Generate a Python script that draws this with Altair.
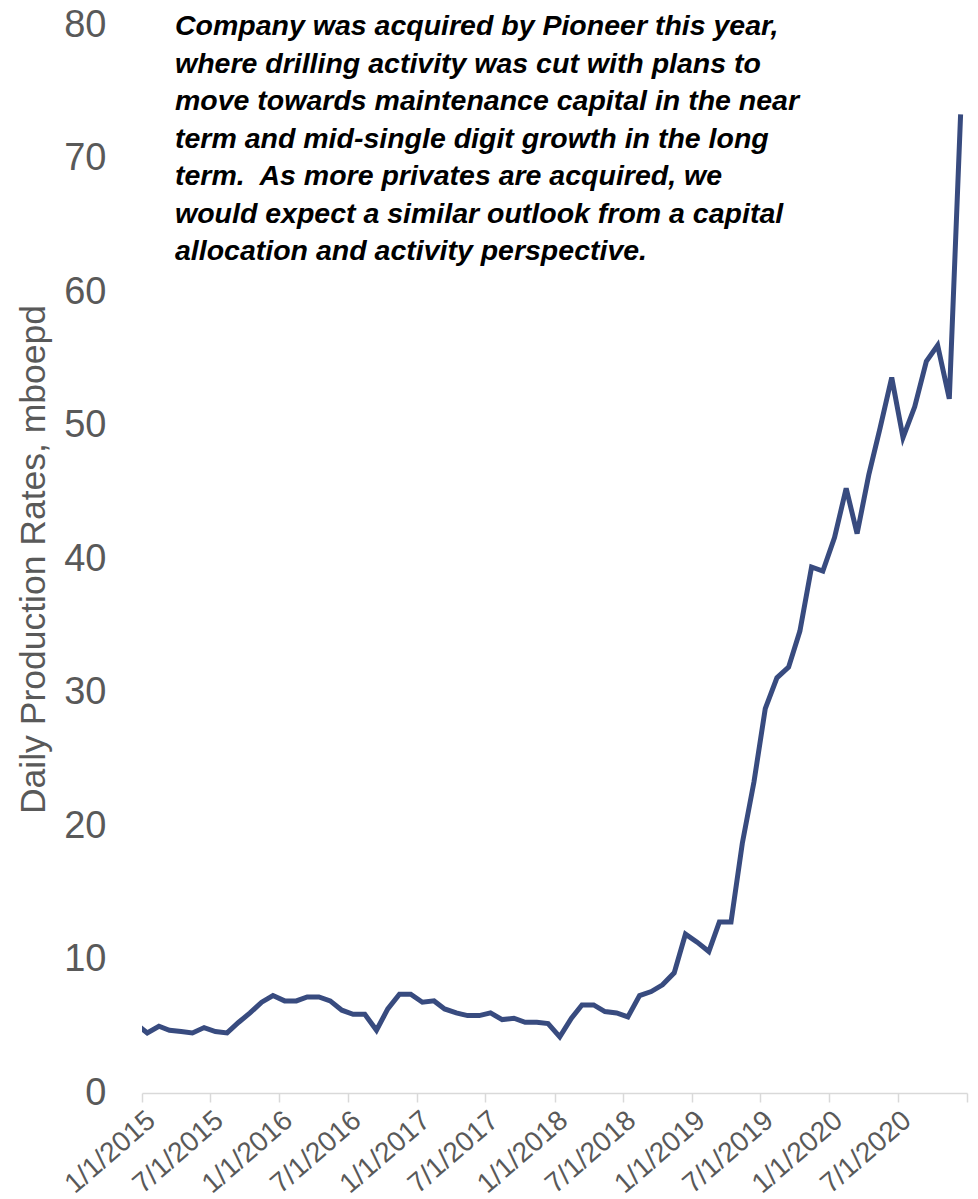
import altair as alt
import pandas as pd

# monthly production (mid-month readings), first value is Dec-2014 (clipped at axis start)
dates = [d.strftime("%Y-%m-%d") for d in pd.date_range("2014-12-01", periods=73, freq="MS") + pd.Timedelta(days=14)]
values = [5.2,
          4.5, 5.0, 4.7, 4.6, 4.5, 4.9, 4.6, 4.5, 5.3, 6.0, 6.8, 7.3,
          6.9, 6.9, 7.2, 7.2, 6.9, 6.2, 5.9, 5.9, 4.7, 6.3, 7.4, 7.4,
          6.8, 6.9, 6.3, 6.0, 5.8, 5.8, 6.0, 5.5, 5.6, 5.3, 5.3, 5.2,
          4.2, 5.6, 6.6, 6.6, 6.1, 6.0, 5.7, 7.3, 7.6, 8.1, 9.0, 11.9,
          11.3, 10.6, 12.8, 12.8, 18.7, 23.3, 28.8, 31.1, 31.9, 34.6, 39.4, 39.1,
          41.6, 45.3, 41.9, 46.3, 49.8, 53.6, 49.1, 51.4, 54.8, 56.0, 52.0, 73.3]

tick_years = [2015, 2015, 2016, 2016, 2017, 2017, 2018, 2018, 2019, 2019, 2020, 2020, 2021]
tick_months = [1, 7, 1, 7, 1, 7, 1, 7, 1, 7, 1, 7, 1]
y_ticks = [0, 10, 20, 30, 40, 50, 60, 70, 80]

note_lines = [
    "Company was acquired by Pioneer this year,",
    "where drilling activity was cut with plans to",
    "move towards maintenance capital in the near",
    "term and mid-single digit growth in the long",
    "term.\u00a0 As more privates are acquired, we",
    "would expect a similar outlook from a capital",
    "allocation and activity perspective.",
]

df = pd.DataFrame({"date": dates, "value": values})
note_df = pd.DataFrame({"t": ["\n".join(note_lines)]})

FONT = "Liberation Sans"
GRAY = "#595959"

tick_vals = [alt.DateTime(year=y, month=m, date=1, utc=True) for y, m in zip(tick_years, tick_months)]

line = alt.Chart(df).mark_line(color="#384B7F", strokeWidth=5, clip=True).encode(
    x=alt.X(
        "date:T",
        scale=alt.Scale(
            type="utc",
            domain=[alt.DateTime(year=2015, month=1, date=1, utc=True),
                    alt.DateTime(year=2021, month=1, date=1, utc=True)],
        ),
        axis=alt.Axis(
            values=tick_vals,
            labelExpr="utcyear(datum.value) >= 2021 ? '' : utcFormat(datum.value, '%-m/%-d/%Y')",
            labelAngle=319,
            labelAlign="right",
            labelBaseline="top",
            labelPadding=4,
            labelFontSize=28,
            labelFont=FONT,
            labelColor=GRAY,
            labelOverlap=False,
            domainColor="#D9D9D9",
            domainWidth=1.5,
            tickColor="#D9D9D9",
            tickWidth=1.5,
            tickSize=9,
            title=None,
            grid=False,
        ),
    ),
    y=alt.Y(
        "value:Q",
        scale=alt.Scale(domain=[0, 80], nice=False),
        axis=alt.Axis(
            values=y_ticks,
            domain=False,
            ticks=False,
            grid=False,
            labelPadding=36,
            labelFontSize=38,
            labelFont=FONT,
            labelColor=GRAY,
            title="Daily Production Rates, mboepd",
            titleFont=FONT,
            titleFontSize=35.5,
            titleFontWeight="normal",
            titleColor=GRAY,
            titlePadding=12,
        ),
    ),
)

note = alt.Chart(note_df).mark_text(
    align="left",
    baseline="alphabetic",
    fontSize=28.5,
    font=FONT,
    fontStyle="italic",
    fontWeight="bold",
    lineHeight=37.5,
    lineBreak="\n",
    color="black",
).encode(x=alt.value(33), y=alt.value(10), text="t:N")

chart = alt.layer(line, note).properties(
    width=825,
    height=1068,
    padding={"left": 142, "top": 25, "right": 11, "bottom": 106},
    autosize=alt.AutoSizeParams(type="none"),
    background="white",
).configure_view(stroke=None)

chart.save("out.html", embed_options={"renderer": "svg", "actions": False})
